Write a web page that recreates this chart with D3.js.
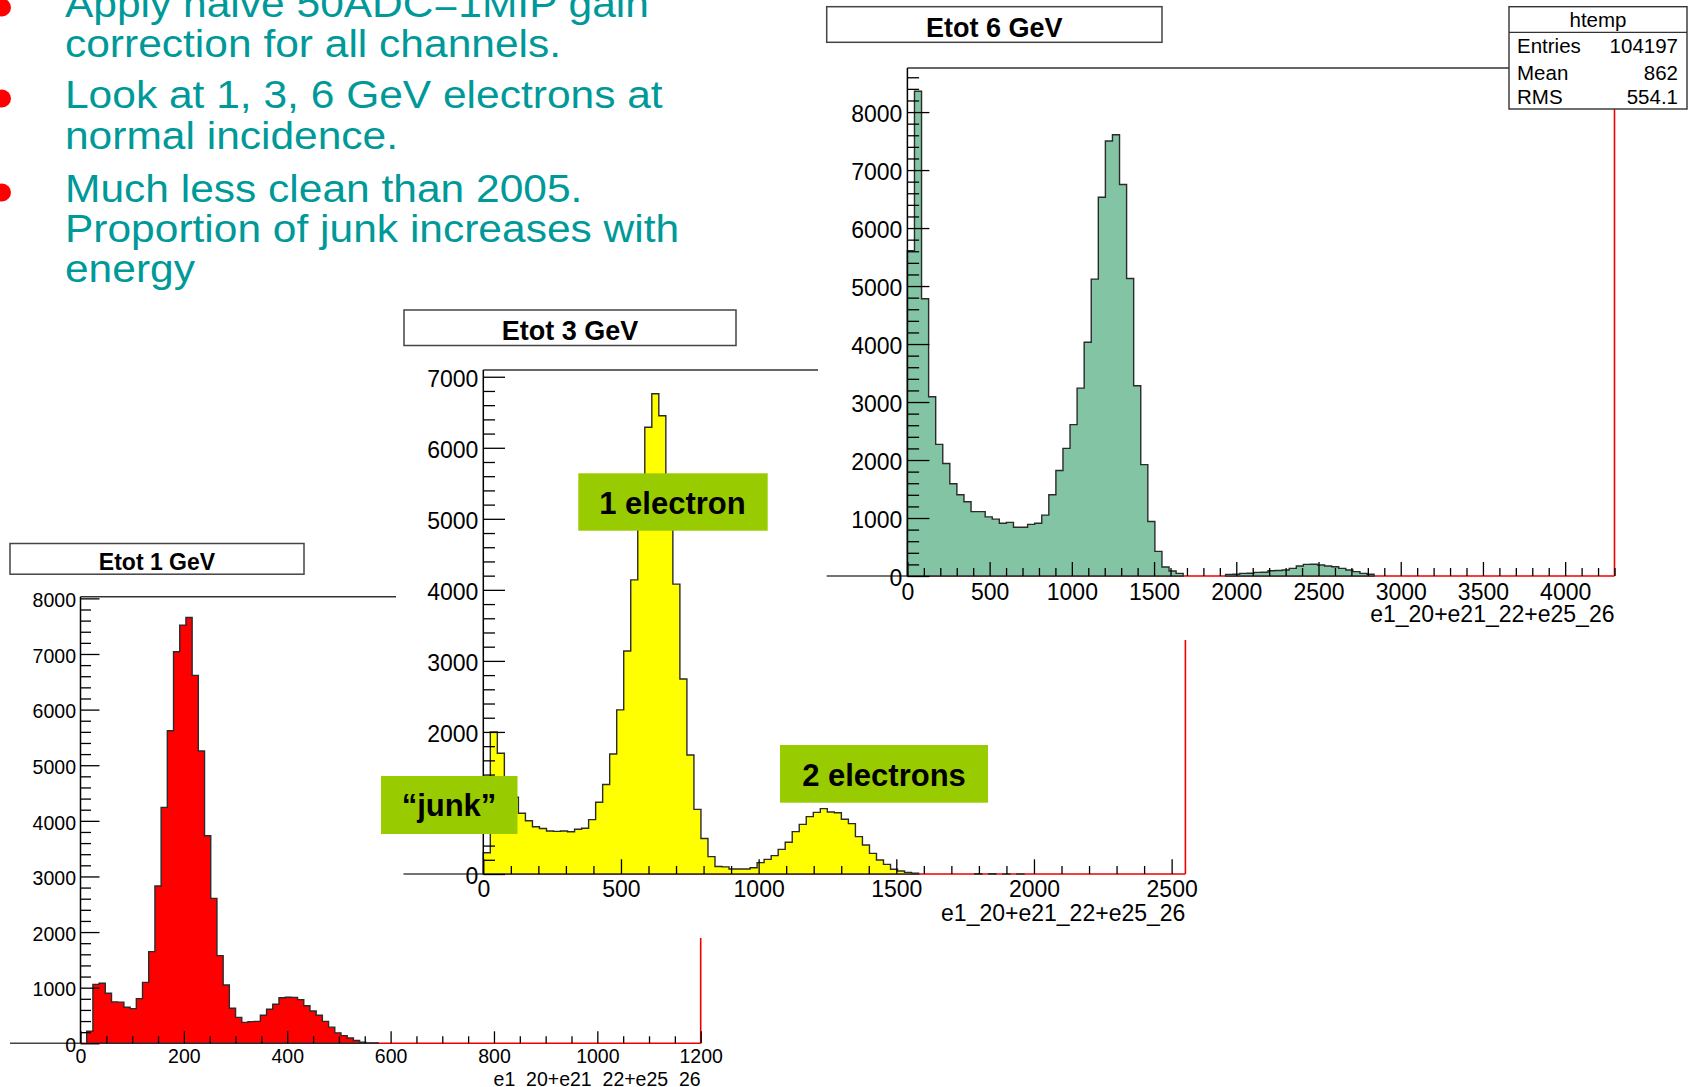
<!DOCTYPE html>
<html>
<head>
<meta charset="utf-8">
<script src="https://cdn.jsdelivr.net/npm/d3@7"></script>
<style>
body{margin:0;background:#fff;}
svg{display:block;}
</style>
</head>
<body>
<svg id="slide" width="1693" height="1087"></svg>
<script>
// bin contents (100 bins each)
var etot1 = [0,216,1060,1080,900,745,740,647,623,803,
    1096,1648,2828,4242,5620,7040,7519,7657,6615,5255,
    3733,2606,1576,1049,629,467,377,390,395,503,
    611,701,820,828,825,785,675,582,505,395,
    290,188,138,94,50,19,6,5,0,0,
    0,0,0,0,0,0,0,0,0,0,
    0,0,0,0,0,0,0,0,0,0,
    0,0,0,0,0,0,0,0,0,0,
    0,0,0,0,0,0,0,0,0,0,
    0,0,0,0,0,0,0,0,0,0];

var etot3 = [300,2000,1700,1350,1080,855,750,665,640,605,
    600,605,595,630,645,765,1010,1260,1690,2310,
    3140,4140,5250,6290,6760,6450,5300,4080,2745,1675,
    910,500,245,105,100,70,70,70,89,160,
    206,258,347,446,596,699,807,868,920,873,
    863,770,709,526,408,291,197,136,66,42,
    23,10,0,0,0,0,0,0,0,0,
    3,0,3,0,2,0,2,0,0,0,
    0,0,0,0,0,0,0,0,0,0,
    0,0,0,0,0,0,0,0,0,0];

var etot6 = [5610,8360,4780,3090,2270,1940,1590,1400,1280,1110,
    1110,1020,980,910,925,840,840,890,910,1050,
    1400,1820,2200,2610,3240,4030,5120,6530,7500,7610,
    6750,5130,3280,1920,940,425,155,86,46,0,
    0,0,0,0,0,28,30,45,48,62,
    65,90,95,103,132,172,200,202,190,172,
    160,132,103,75,46,29,0,0,0,0,
    0,0,0,0,0,0,0,0,0,0,
    0,0,0,0,0,0,0,0,0,0,
    0,0,0,0,0,0,0,0,0,0];

var ticksX1 = [0,200,400,600,800,1000,1200];
var ticksY1 = [0,1000,2000,3000,4000,5000,6000,7000,8000];
var ticksX3 = [0,500,1000,1500,2000,2500];
var ticksY3 = [0,1000,2000,3000,4000,5000,6000,7000];
var ticksX6 = [0,500,1000,1500,2000,2500,3000,3500,4000];
var ticksY6 = [0,1000,2000,3000,4000,5000,6000,7000,8000];

var statNames = ["Entries","Mean","RMS"];
var statValues = ["104197","862","554.1"];

var bulletLines = [
    ["Apply naive 50ADC=1MIP gain","correction for all channels."],
    ["Look at 1, 3, 6 GeV electrons at","normal incidence."],
    ["Much less clean than 2005.","Proportion of junk increases with","energy"]
];

var FONT = "'Liberation Sans', Arial, Helvetica, sans-serif";
var xTitle = "e1_20+e21_22+e25_26";

var svg = d3.select("#slide");
svg.append("rect").attr("width",1693).attr("height",1087).attr("fill","#fff");

// slide bullet text
var drawBullets = function()
{
    var baselines = [[17,57],[108,149],[202,242,282]];
    var txt = svg.append("g")
        .attr("transform","scale(1.09,1)")
        .attr("font-family",FONT)
        .attr("font-size",39)
        .attr("fill","#009999");
    bulletLines.forEach(function(lines,i){
        svg.append("circle")
            .attr("cx",2).attr("cy",baselines[i][0]-9.5).attr("r",9)
            .attr("fill","#ff0000");
        lines.forEach(function(s,j){
            txt.append("text")
                .attr("x",65/1.09)
                .attr("y",baselines[i][j])
                .text(s);
        });
    });
}

// filled step outline, one closed run per stretch of non-empty bins
var histPath = function(values,binW,xScale,yScale)
{
    var d = "";
    var i = 0;
    while (i < values.length) {
        if (values[i] <= 0) { i++; continue; }
        d += "M" + xScale(i*binW) + "," + yScale(0);
        while (i < values.length && values[i] > 0) {
            d += "V" + yScale(values[i]) + "H" + xScale((i+1)*binW);
            i++;
        }
        d += "V" + yScale(0) + "Z";
    }
    return d;
}

var minorTicks = function(max,step,majors)
{
    return d3.range(0,max+0.001,step).filter(function(v){
        return majors.indexOf(v) < 0;
    });
}

var styleAxis = function(g,p)
{
    g.select(".domain").remove();
    g.attr("font-family",FONT).attr("font-size",p.font);
    g.selectAll("line").attr("stroke","#000").attr("stroke-width",1.3);
    g.selectAll("text").attr("fill","#000");
}

var drawPanel = function(p,bins,ticksX,ticksY)
{
    var g = svg.append("g");
    if (p.pad) {
        g.append("rect")
            .attr("x",p.pad[0]).attr("y",p.pad[1])
            .attr("width",p.pad[2]-p.pad[0]).attr("height",p.pad[3]-p.pad[1])
            .attr("fill","#fff");
    }

    var xScale = d3.scaleLinear().domain([0,p.xmax]).range([p.x0,p.x1]);
    var yScale = d3.scaleLinear().domain([0,p.ymax]).range([p.y0,p.y1]);

    // title box
    g.append("rect")
        .attr("x",p.box[0]).attr("y",p.box[1])
        .attr("width",p.box[2]-p.box[0]).attr("height",p.box[3]-p.box[1])
        .attr("fill","#fff").attr("stroke","#444").attr("stroke-width",1.5);
    g.append("text")
        .attr("x",(p.box[0]+p.box[2])/2).attr("y",p.titleY)
        .attr("text-anchor","middle")
        .attr("font-family",FONT).attr("font-weight","bold")
        .attr("font-size",p.titleFont)
        .text(p.title);

    // frame: dark zero line stub, red bottom and right edges
    g.append("line")
        .attr("x1",p.lineFrom).attr("x2",p.x0)
        .attr("y1",p.y0).attr("y2",p.y0)
        .attr("stroke","#444").attr("stroke-width",1.6);
    g.append("line")
        .attr("x1",p.x0).attr("x2",p.x1)
        .attr("y1",p.y0).attr("y2",p.y0)
        .attr("stroke","#ee0000").attr("stroke-width",1.6);
    g.append("line")
        .attr("x1",p.x1).attr("x2",p.x1)
        .attr("y1",p.y1).attr("y2",p.y0)
        .attr("stroke","#ee0000").attr("stroke-width",1.6);

    g.append("path")
        .attr("d",histPath(bins,p.binW,xScale,yScale))
        .attr("fill",p.fill)
        .attr("stroke","#2b2b2b").attr("stroke-width",1.4)
        .attr("stroke-linejoin","miter");

    g.append("line")
        .attr("x1",p.x0).attr("x2",p.x1)
        .attr("y1",p.y1).attr("y2",p.y1)
        .attr("stroke","#333").attr("stroke-width",1.5);
    g.append("line")
        .attr("x1",p.x0).attr("x2",p.x0)
        .attr("y1",p.y1).attr("y2",p.y0)
        .attr("stroke","#000").attr("stroke-width",1.5);

    // axes, ticks pointing into the frame as ROOT draws them
    var yMinor = g.append("g")
        .attr("transform","translate("+p.x0+",0)")
        .call(d3.axisLeft(yScale)
            .tickValues(minorTicks(p.ymax,p.yMinorStep,ticksY))
            .tickSize(-p.yMinor).tickFormat(""));
    styleAxis(yMinor,p);
    var yMajor = g.append("g")
        .attr("transform","translate("+p.x0+",0)")
        .call(d3.axisLeft(yScale)
            .tickValues(ticksY)
            .tickSize(-p.yTick).tickPadding(p.yPad)
            .tickFormat(d3.format("d")));
    styleAxis(yMajor,p);
    yMajor.selectAll("text").attr("dy","0.42em");

    var xMinor = g.append("g")
        .attr("transform","translate(0,"+p.y0+")")
        .call(d3.axisBottom(xScale)
            .tickValues(minorTicks(p.xmax,p.xMinorStep,ticksX))
            .tickSize(-p.xMinor).tickFormat(""));
    styleAxis(xMinor,p);
    var xMajor = g.append("g")
        .attr("transform","translate(0,"+p.y0+")")
        .call(d3.axisBottom(xScale)
            .tickValues(ticksX)
            .tickSize(-p.xTick).tickPadding(p.xPad)
            .tickFormat(d3.format("d")));
    styleAxis(xMajor,p);

    g.append("text")
        .attr("x",p.x1).attr("y",p.xTitleY)
        .attr("text-anchor","end")
        .attr("font-family",FONT).attr("font-size",p.font)
        .text(xTitle);

    return g;
}

var drawStats = function(g)
{
    var box = {x:1509,y:6.7,w:178,h:102.3};
    g.append("rect")
        .attr("x",box.x).attr("y",box.y).attr("width",box.w).attr("height",box.h)
        .attr("fill","#fff").attr("stroke","#333").attr("stroke-width",1.4);
    g.append("line")
        .attr("x1",box.x).attr("x2",box.x+box.w)
        .attr("y1",32.3).attr("y2",32.3)
        .attr("stroke","#333").attr("stroke-width",1.2);
    var t = g.append("g").attr("font-family",FONT).attr("font-size",20.5);
    t.append("text")
        .attr("x",box.x+box.w/2).attr("y",26.5)
        .attr("text-anchor","middle").text("htemp");
    var rows = [53,79.5,103.5];
    statNames.forEach(function(n,i){
        t.append("text").attr("x",1517).attr("y",rows[i]).text(n);
        t.append("text").attr("x",1678).attr("y",rows[i])
            .attr("text-anchor","end").text(statValues[i]);
    });
}

var drawNote = function(x,y,w,h,label,cx,by)
{
    svg.append("rect")
        .attr("x",x).attr("y",y).attr("width",w).attr("height",h)
        .attr("fill","#99cc00");
    svg.append("text")
        .attr("x",cx).attr("y",by)
        .attr("text-anchor","middle")
        .attr("font-family",FONT).attr("font-weight","bold")
        .attr("font-size",31).attr("fill","#000")
        .text(label);
}

var panel1 = {
    x0:80.5, x1:700.7, y0:1043.3, y1:596.7, xmax:1200, ymax:8030, binW:12,
    fill:"#ff0000", font:19.5, titleFont:23,
    yTick:19, yMinor:10.5, xTick:12, xMinor:7, yPad:4.5, xPad:6.3,
    yMinorStep:200, xMinorStep:50, lineFrom:10,
    box:[10,543.5,304,574.2], title:"Etot 1 GeV", titleY:569.5, xTitleY:1086
};
var panel3 = {
    x0:483.3, x1:1185.4, y0:874, y1:370, xmax:2550, ymax:7095, binW:25.5,
    fill:"#ffff00", font:23, titleFont:27,
    yTick:21.7, yMinor:11.7, xTick:14.7, xMinor:8, yPad:5, xPad:6.7,
    yMinorStep:200, xMinorStep:100, lineFrom:403.5,
    box:[404,310,736,345.5], title:"Etot 3 GeV", titleY:340, xTitleY:921,
    pad:[396,300,1215,938]
};
var panel6 = {
    x0:907.4, x1:1614.5, y0:576, y1:68, xmax:4300, ymax:8760, binW:43,
    fill:"#82c4a4", font:23, titleFont:27,
    yTick:22, yMinor:11.7, xTick:14, xMinor:8, yPad:5, xPad:7.7,
    yMinorStep:200, xMinorStep:100, lineFrom:826.7,
    box:[826.7,6.7,1162,42.3], title:"Etot 6 GeV", titleY:36.5, xTitleY:621.5,
    pad:[818,0,1693,640]
};

drawBullets();
drawPanel(panel1,etot1,ticksX1,ticksY1);
drawPanel(panel3,etot3,ticksX3,ticksY3);
var g6 = drawPanel(panel6,etot6,ticksX6,ticksY6);
drawStats(g6);

drawNote(578.3,473.3,189.4,57.4,"1 electron",672.5,513.5);
drawNote(780,745,208,57.7,"2 electrons",884,786);
drawNote(381,776,136.5,58,"\u201cjunk\u201d",449,815.5);
</script>
</body>
</html>
